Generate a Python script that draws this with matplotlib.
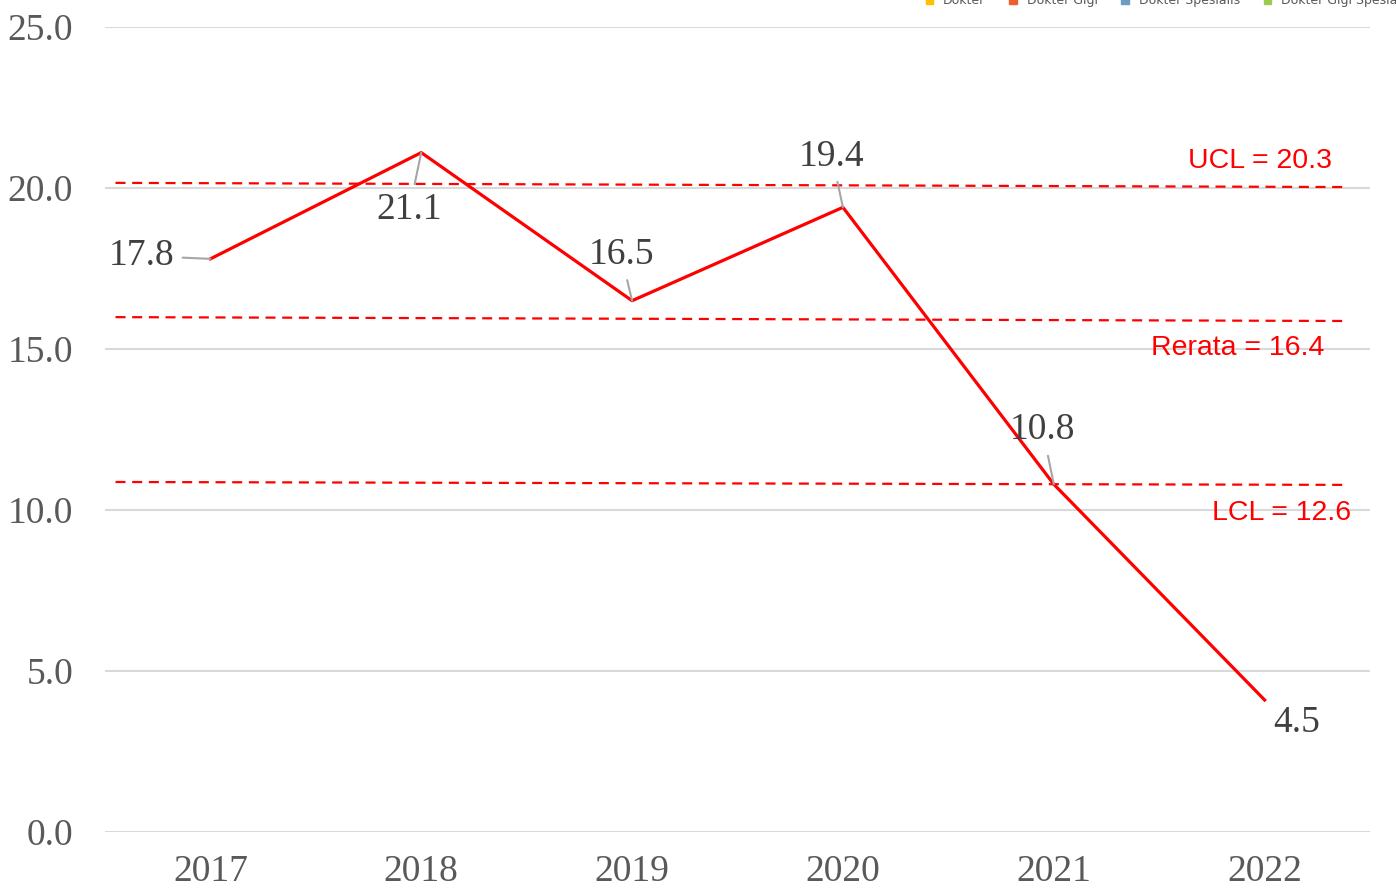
import matplotlib.pyplot as plt
from matplotlib.patches import Patch

years = ['2017', '2018', '2019', '2020', '2021', '2022']
values = [17.8, 21.1, 16.5, 19.4, 10.8, 4.1]
value_labels = ['17.8', '21.1', '16.5', '19.4', '10.8', '4.5']
# label offsets (pixels) relative to the points, Excel-style placement
label_offsets = [(-69, 3), (-12, -57), (-11, 46), (-11, 51), (-11, 54), (32, -23)]
leader = [True, True, True, True, True, False]

# control limits (drawn as slightly tilted shapes in the source)
limit_x = [-0.45, 5.38]
ucl_y = [20.16, 20.03]
mean_y = [15.99, 15.87]
lcl_y = [10.87, 10.78]
limit_texts = ['UCL = 20.3', 'Rerata = 16.4', 'LCL = 12.6']
limit_text_pos = [(4.98, 20.84), (4.87, 15.03), (5.08, 9.91)]

legend_names = ['Dokter', 'Dokter Gigi', 'Dokter Spesialis', 'Dokter Gigi Spesialis']
legend_colors = ['#FFC000', '#ED5F2F', '#6E9BC2', '#9BCB4F']

fig = plt.figure(figsize=(13.96, 8.92), dpi=100)
ax = fig.add_axes([0.0752, 0.0673, 0.9062, 0.9024])

x = list(range(len(years)))
ax.plot(x, values, color='red', lw=2.3, zorder=3)

for xs, ys in [(limit_x, ucl_y), (limit_x, mean_y), (limit_x, lcl_y)]:
    ax.plot(xs, ys, color='red', lw=1.6, ls=(0, (4.5, 3)), zorder=2)

for t, (tx, ty) in zip(limit_texts, limit_text_pos):
    ax.text(tx, ty, t, color='red', fontsize=20.5, family='Liberation Sans',
            ha='center', va='center', zorder=4)

for i in range(len(years)):
    ap = None
    if leader[i]:
        ap = dict(arrowstyle='-', color='#a6a6a6', lw=1.5, shrinkA=4, shrinkB=0)
    ax.annotate(value_labels[i], (x[i], values[i]), xytext=label_offsets[i],
                textcoords='offset pixels', ha='center', va='center',
                fontsize=27, family='Liberation Serif', color='#404040',
                arrowprops=ap, zorder=4)

ax.set_xlim(-0.5, 5.5)
ax.set_ylim(0, 25)
ax.set_xticks(x)
ax.set_xticklabels(years)
ax.set_yticks([0, 5, 10, 15, 20, 25])
ax.set_yticklabels(['%.1f' % v for v in [0, 5, 10, 15, 20, 25]])
ax.tick_params(length=0, labelsize=27, labelcolor='#595959')
ax.tick_params(axis='y', pad=23)
ax.tick_params(axis='x', pad=16)
for lab in ax.get_xticklabels() + ax.get_yticklabels():
    lab.set_family('Liberation Serif')
ax.grid(axis='y', color='#d9d9d9', lw=1.5)
ax.set_axisbelow(True)
for s in ax.spines.values():
    s.set_visible(False)

# legend from the original sheet, partly cut off at the top edge
handles = [Patch(color=c) for c in legend_colors]
fig.legend(handles, legend_names, loc='center left', bbox_to_anchor=(0.655, 0.999),
           ncol=4, frameon=False, fontsize=9, handlelength=0.6, handleheight=0.6,
           columnspacing=1.9, handletextpad=0.8, labelcolor='#595959')

fig.savefig('out.png', dpi=100)
